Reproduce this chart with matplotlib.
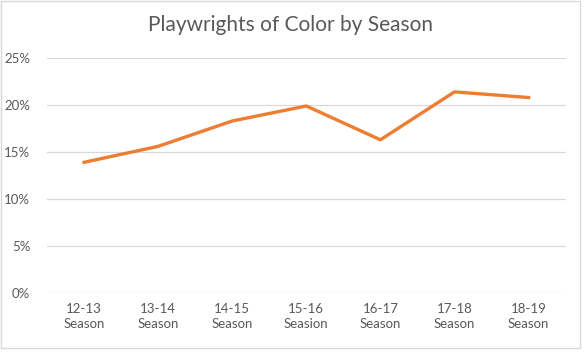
import matplotlib.pyplot as plt
from matplotlib.ticker import PercentFormatter
from matplotlib.patches import Rectangle

seasons = ['12-13\nSeason', '13-14\nSeason', '14-15\nSeason', '15-16\nSeasion',
           '16-17\nSeason', '17-18\nSeason', '18-19\nSeason']
pct_color = [0.139, 0.156, 0.183, 0.199, 0.163, 0.214, 0.208]

plt.rcParams['font.family'] = ['Lato', 'DejaVu Sans']
grey = '#595959'

fig = plt.figure(figsize=(5.84, 3.52), dpi=100)
ax = fig.add_axes([0.0805, 0.168, 0.888, 0.667])

x = range(len(seasons))
ax.plot(x, pct_color, color='#ED7D31', lw=2.4, solid_joinstyle='round')

ax.set_xlim(-0.5, len(seasons) - 0.5)
ax.set_ylim(0, 0.25)
ax.set_yticks([0, 0.05, 0.10, 0.15, 0.20, 0.25])
ax.yaxis.set_major_formatter(PercentFormatter(1.0, decimals=0))
ax.set_xticks(list(x))
ax.set_xticklabels(seasons, linespacing=1.35)
ax.grid(axis='y', color='#D9D9D9', lw=0.9)
ax.set_axisbelow(True)
for s in ax.spines.values():
    s.set_visible(False)
ax.tick_params(length=0, colors=grey, labelsize=9.5)
ax.tick_params(axis='y', pad=12)
ax.tick_params(axis='x', pad=7)

fig.text(0.497, 0.928, 'Playwrights of Color by Season', ha='center', va='center',
         fontsize=15, color=grey)

# light chart border
fig.patches.append(Rectangle((0.002, 0.012), 0.991, 0.985, transform=fig.transFigure,
                             fill=False, edgecolor='#D9D9D9', lw=1))

fig.savefig('out.png', dpi=100)
